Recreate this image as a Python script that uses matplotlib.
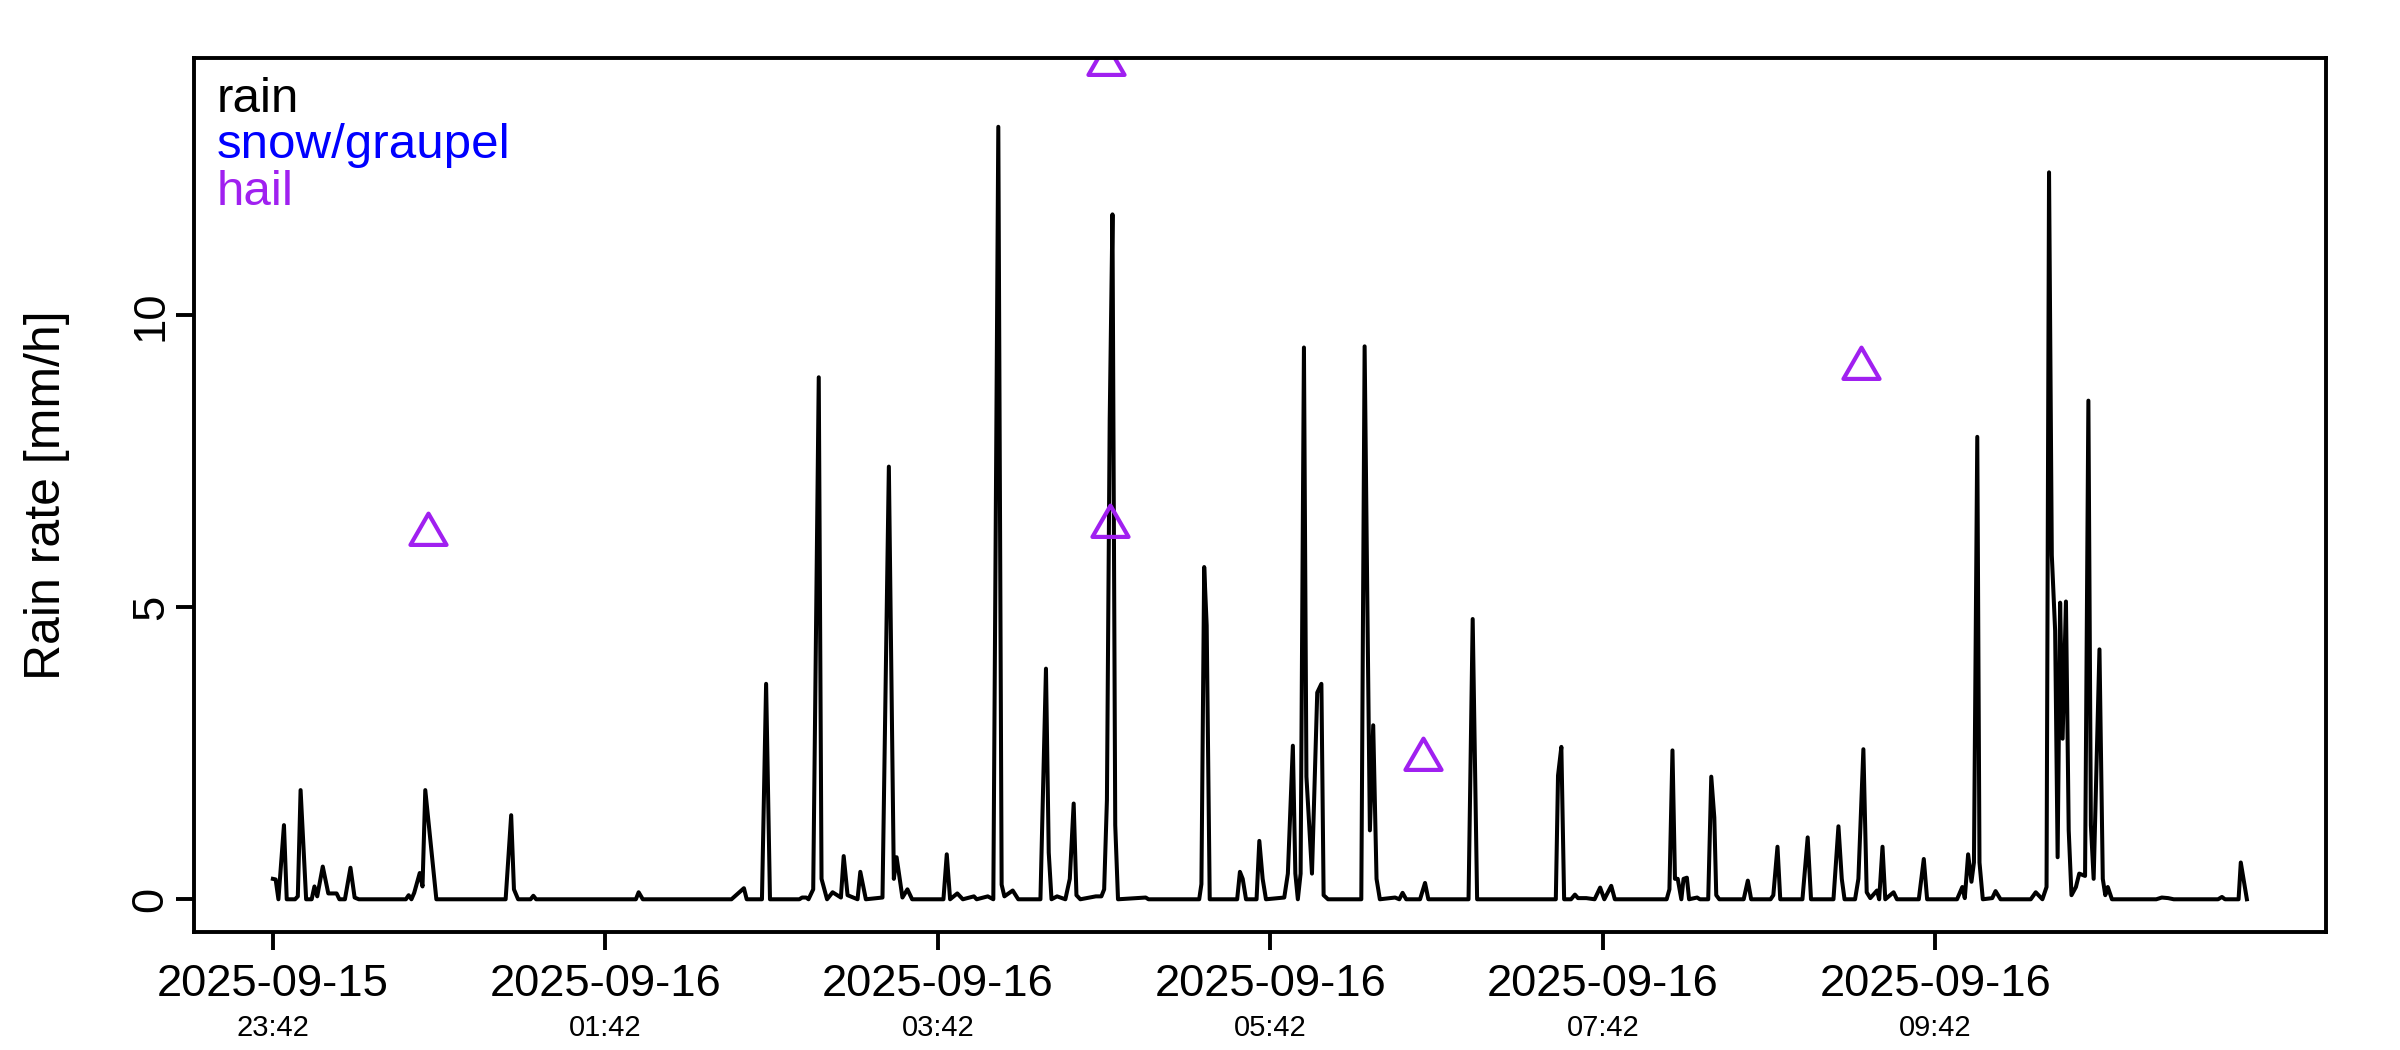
import numpy as np
import pandas as pd
import matplotlib
matplotlib.use("Agg")
from matplotlib import pyplot as plt
from matplotlib import transforms
from matplotlib.path import Path

plt.rcParams['font.family'] = ['Liberation Sans', 'DejaVu Sans']

start = pd.Timestamp("2025-09-15 23:42")

# rain rate: minutes after start, mm/h
rain_min = [0, 1, 2, 4, 5, 8, 9, 10, 12, 14, 15, 16, 18, 20, 23, 24, 26, 28, 29.5, 31,
            48, 49, 50, 51, 53, 54, 55, 59, 84, 86, 87, 88.5, 93, 94, 95,
            131, 132, 133.5, 165.5, 170, 171, 176.5, 178, 179.4, 190, 191, 192.5, 193.3,
            195, 197, 198, 200, 202, 205, 206, 207.4, 211, 212, 214, 220, 222.3, 224.1,
            225.1, 227.2, 229, 230.7, 242, 243.2, 244.4, 247, 249, 253, 254, 258, 260,
            261.8, 263, 264, 267, 269, 277, 279, 280, 281, 283, 286, 287.6, 289, 290,
            291.4, 297, 299, 300, 301, 302, 303, 304, 305, 315, 316, 334.3, 335.1,
            336.1, 337, 338.1, 348, 349, 350, 351.2, 355, 356, 357.2, 358.4, 365, 366.3,
            368.1, 369, 369.9, 370.9, 372.1, 373, 375, 376.9, 378.4, 379.2, 380.8,
            392.8, 394, 395, 395.9, 397.1, 398.3, 399.5,
            405, 406.5, 407.7, 409, 414, 415.8, 417, 431.5, 433, 434.6, 463, 463.8, 465,
            466, 468.5, 469.9, 471, 474, 477, 479, 480.5, 483, 484.3, 503, 504, 505.1,
            506, 507, 508.3, 509.1, 510.3, 511.1, 514, 515, 518, 519.1, 520.2, 520.9,
            522, 530.8, 532.3, 533.5, 540.5, 541.5, 543, 544,
            552, 553.9, 555.1, 563.2, 565, 566.2, 567.2, 571, 572.2, 574, 575.2, 576.5,
            578, 578.9, 579.7, 580.9, 581.9, 584.9, 586.1, 594, 595.8, 597, 607.8, 609.7,
            610.6, 611.8, 613, 613.9, 615.1, 615.9, 617.1, 620.5, 621.7, 623.5, 634.4,
            636.2, 638.6, 640.1, 641, 642, 643.2, 644.1, 645, 645.9, 647.1, 648.1, 649.1,
            650.7, 651.9, 654, 655.2, 656.1, 657.1, 659.2, 660.4, 661.3, 662.2, 663.7,
            679.7, 681.7, 684, 686, 702, 703.4, 704.5, 709.4, 710.2, 712.4]
rain_rate = [0.35, 0.34, 0, 1.27, 0, 0, 0.05, 1.87, 0, 0, 0.22, 0.05, 0.56, 0.1, 0.1, 0, 0, 0.54, 0.03, 0,
             0, 0.07, 0, 0.11, 0.45, 0.22, 1.87, 0, 0, 1.44, 0.17, 0, 0, 0.06, 0,
             0, 0.12, 0, 0, 0.19, 0, 0, 3.69, 0, 0, 0.03, 0.03, 0,
             0.17, 8.94, 0.35, 0, 0.12, 0.03, 0.74, 0.07, 0, 0.47, 0, 0.03, 7.41, 0.35,
             0.72, 0.03, 0.17, 0, 0, 0.77, 0, 0.1, 0, 0.05, 0, 0.05, 0,
             13.23, 0.25, 0.05, 0.15, 0, 0, 3.95, 0.8, 0, 0.05, 0, 0.35, 1.64, 0.07,
             0, 0.05, 0.05, 0.17, 1.7, 8.2, 11.73, 1.27, 0, 0.03, 0, 0, 0.26,
             5.69, 4.69, 0, 0, 0.47, 0.35, 0, 0, 1.0, 0.35, 0, 0.03, 0.44,
             2.63, 0.44, 0, 0.44, 9.45, 2.1, 0.44, 3.54, 3.69, 0.07, 0,
             0, 9.47, 5.0, 1.18, 2.98, 0.35, 0,
             0.03, 0, 0.11, 0, 0, 0.28, 0, 0, 4.8, 0, 0, 2.12, 2.61,
             0, 0, 0.08, 0.02, 0.02, 0, 0.2, 0, 0.23, 0, 0, 0.17, 2.55,
             0.35, 0.35, 0, 0.35, 0.37, 0, 0.03, 0, 0, 2.1, 1.4, 0.07,
             0, 0, 0.32, 0, 0, 0.07, 0.9, 0,
             0, 1.06, 0, 0, 1.25, 0.35, 0, 0, 0.35, 2.57, 0.12, 0.02,
             0.1, 0.15, 0, 0.9, 0, 0.12, 0, 0, 0.69, 0, 0, 0.21,
             0.02, 0.77, 0.3, 0.63, 7.92, 0.63, 0, 0.02, 0.14, 0, 0,
             0.12, 0, 0.21, 12.45, 5.89, 4.6, 0.72, 5.08, 2.75, 5.1, 1.18, 0.07,
             0.21, 0.44, 0.4, 8.54, 1.27, 0.35, 4.28, 0.35, 0.07, 0.21, 0,
             0, 0.03, 0.02, 0, 0, 0.04, 0, 0, 0.63, 0]

hail_min = [56, 300.5, 302, 415, 573]
hail_rate = [6.25, 14.3, 6.4, 2.4, 9.1]

tick_dates = ["2025-09-15", "2025-09-16", "2025-09-16", "2025-09-16", "2025-09-16", "2025-09-16"]
tick_clock = ["23:42", "01:42", "03:42", "05:42", "07:42", "09:42"]

legend_labels = ["rain", "snow/graupel", "hail"]
legend_colors = ["black", "blue", "#A020F0"]

rain_t = start + pd.to_timedelta(rain_min, unit="min")
hail_t = start + pd.to_timedelta(hail_min, unit="min")
tick_t = pd.to_datetime([d + " " + c for d, c in zip(tick_dates, tick_clock)])

# R style pch=2 triangle, centred on its centroid
tri = Path([(0, 1.1547), (1, -0.57735), (-1, -0.57735), (0, 1.1547)],
           [Path.MOVETO, Path.LINETO, Path.LINETO, Path.CLOSEPOLY])

fig = plt.figure(figsize=(24, 10.5), dpi=100)
ax = fig.add_axes([0.0808, 0.1124, 0.8883, 0.8319])

ax.plot(rain_t, rain_rate, color="black", lw=2.9)
ax.plot(hail_t, hail_rate, ls="none", marker=tri, ms=30, mfc="none",
        mec="#A020F0", mew=3.0)

# R pads the x range by 4 %
t0, t1 = rain_t.min(), rain_t.max()
pad = (t1 - t0) * 0.04
ax.set_xlim(t0 - pad, t1 + pad)
ax.set_ylim(-0.56, 14.4)

for s in ax.spines.values():
    s.set_linewidth(2.8)

ax.set_xticks(tick_t)
ax.set_xticklabels(tick_dates, fontsize=32.7)
ax.set_yticks([0, 5, 10])
ax.set_yticklabels(["0", "5", "10"], fontsize=32.7, rotation=90, va="center")
ax.tick_params(axis="x", length=13, width=2.8, pad=10)
ax.tick_params(axis="y", length=13, width=2.8, pad=3)

trans = transforms.blended_transform_factory(ax.transData, ax.transAxes)
for t, c in zip(tick_t, tick_clock):
    ax.text(t, -0.094, c, transform=trans, ha="center", va="top", fontsize=21)

ax.text(-0.069, 0.5, "Rain rate [mm/h]", transform=ax.transAxes, rotation=90,
        ha="center", va="center", fontsize=36)

for i, (lab, col) in enumerate(zip(legend_labels, legend_colors)):
    ax.text(0.0107, 0.9388 - i * 0.053, lab, color=col, fontsize=35.5,
            transform=ax.transAxes, ha="left", va="baseline")

fig.savefig("out.png", dpi=100)
